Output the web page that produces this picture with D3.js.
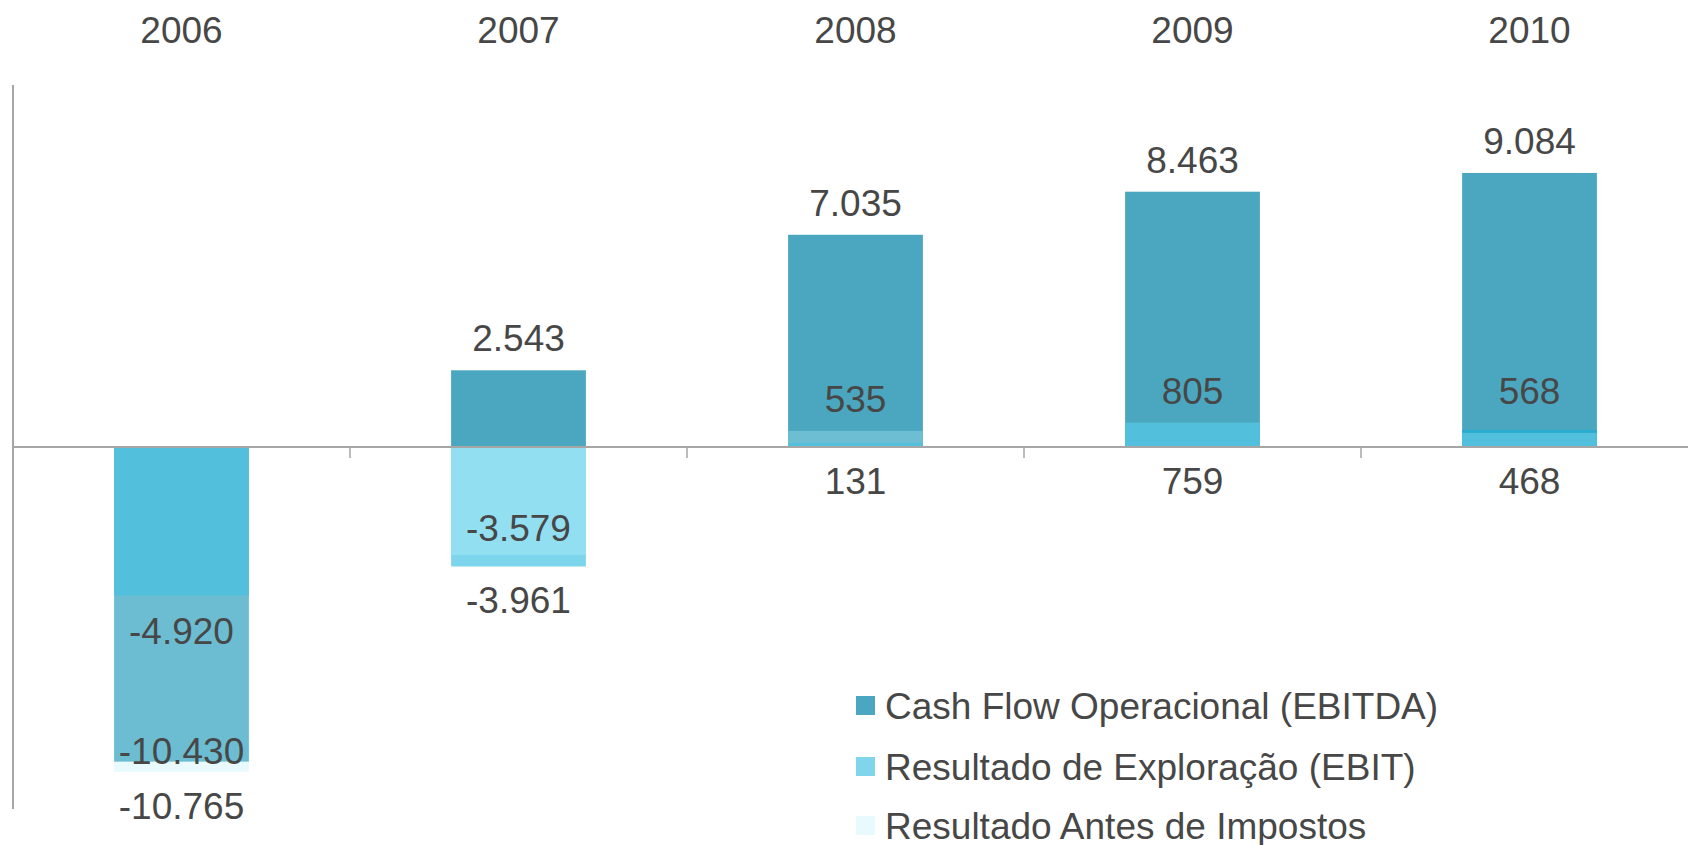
<!DOCTYPE html>
<html>
<head>
<meta charset="utf-8">
<script src="https://cdn.jsdelivr.net/npm/d3@7"></script>
<style>
  html, body { margin: 0; padding: 0; background: #ffffff; }
  svg { display: block; }
  text { font-family: "Liberation Sans", Arial, sans-serif; fill: #474747; }
</style>
</head>
<body>
<svg id="chart" width="1688" height="845"></svg>
<script>
// ---- data ----
const years = ["2006", "2007", "2008", "2009", "2010"];
const ebitda = [-4920, 2543, 7035, 8463, 9084];
const ebit = [-10430, -3579, 535, 805, 568];
const rai = [-10765, -3961, 131, 759, 468];
const seriesNames = ["Cash Flow Operacional (EBITDA)", "Resultado de Exploração (EBIT)", "Resultado Antes de Impostos"];
const yDomain = [-12000, 12000];

// ---- styles / layout ----
const legendColors = ["#4BA7BF", "#7FD6EB", "#E8FAFD"];
const pointColors = [
  ["#52C0DC", "#4BA7BF", "#4BA7BF", "#4BA7BF", "#4BA7BF"],
  ["#6DBDD2", "#92DFF2", "#6DBED2", "#52C0DC", "#2AACD0"],
  ["#E8FAFD", "#7DD5EC", "#52C0DC", "#52C0DC", "#52C0DC"]
];
const ebitLabelShift = [-11, -27, -32, -32, -39];

const svg = d3.select("#chart");
const fontSize = 37;

const x = d3.scaleBand().domain(years).range([13, 1698]).paddingInner(0.6).paddingOuter(0.3);
const y = d3.scaleLinear().domain(yDomain).range([809, 85]);

const fmt0 = d3.formatLocale({ decimal: ",", thousands: ".", grouping: [3], currency: ["", ""], minus: "-" }).format(",d");
const fmt = v => fmt0(v);

const series = [ebitda, ebit, rai];

// bars: per category, draw largest magnitude first
const bars = [];
years.forEach((yr, i) => {
  const items = series.map((s, k) => ({ yr, i, k, v: s[i] }));
  items.sort((a, b) => Math.abs(b.v) - Math.abs(a.v));
  items.forEach(d => bars.push(d));
});

svg.append("g").selectAll("rect").data(bars).join("rect")
  .attr("x", d => x(d.yr))
  .attr("width", x.bandwidth())
  .attr("y", d => Math.min(y(d.v), y(0)))
  .attr("height", d => Math.abs(y(d.v) - y(0)))
  .attr("fill", d => pointColors[d.k][d.i]);

// axes
const axisColor = "#A6A6A6";
svg.append("line").attr("x1", 13).attr("x2", 1688).attr("y1", y(0)).attr("y2", y(0))
  .attr("stroke", axisColor).attr("stroke-width", 2);
svg.append("line").attr("x1", 13).attr("x2", 13).attr("y1", y(yDomain[1])).attr("y2", y(yDomain[0]))
  .attr("stroke", axisColor).attr("stroke-width", 2);
const boundaries = years.slice(1).map(yr => x(yr) - x.step() * x.paddingInner() / 2);
svg.append("g").selectAll("line").data(boundaries).join("line")
  .attr("x1", d => d).attr("x2", d => d)
  .attr("y1", y(0)).attr("y2", y(0) + 11)
  .attr("stroke", axisColor).attr("stroke-width", 1.5);

// year labels at top
svg.append("g").selectAll("text").data(years).join("text")
  .attr("x", d => x(d) + x.bandwidth() / 2)
  .attr("y", 43)
  .attr("text-anchor", "middle")
  .style("font-size", fontSize + "px")
  .text(d => d);

// data labels
function labelY(k, v, i) {
  if (k === 0) return v >= 0 ? y(v) - 32 : y(v) + 36;
  if (k === 1) return y(v) + ebitLabelShift[i];
  return Math.max(y(v), y(0)) + 34;
}
const labels = [];
series.forEach((s, k) => s.forEach((v, i) => labels.push({ k, i, v })));
svg.append("g").selectAll("text").data(labels).join("text")
  .attr("x", d => x(years[d.i]) + x.bandwidth() / 2)
  .attr("y", d => labelY(d.k, d.v, d.i))
  .attr("dy", "0.35em")
  .attr("text-anchor", "middle")
  .style("font-size", fontSize + "px")
  .text(d => fmt(d.v));

// legend
const lg = svg.append("g").attr("transform", "translate(856,0)");
const rowY = [706, 767, 826];
seriesNames.forEach((name, k) => {
  lg.append("rect").attr("x", 0).attr("y", rowY[k] - 10).attr("width", 19).attr("height", 19)
    .attr("fill", legendColors[k]);
  lg.append("text").attr("x", 29).attr("y", rowY[k]).attr("dy", "0.35em")
    .style("font-size", fontSize + "px").text(name);
});
</script>
</body>
</html>
